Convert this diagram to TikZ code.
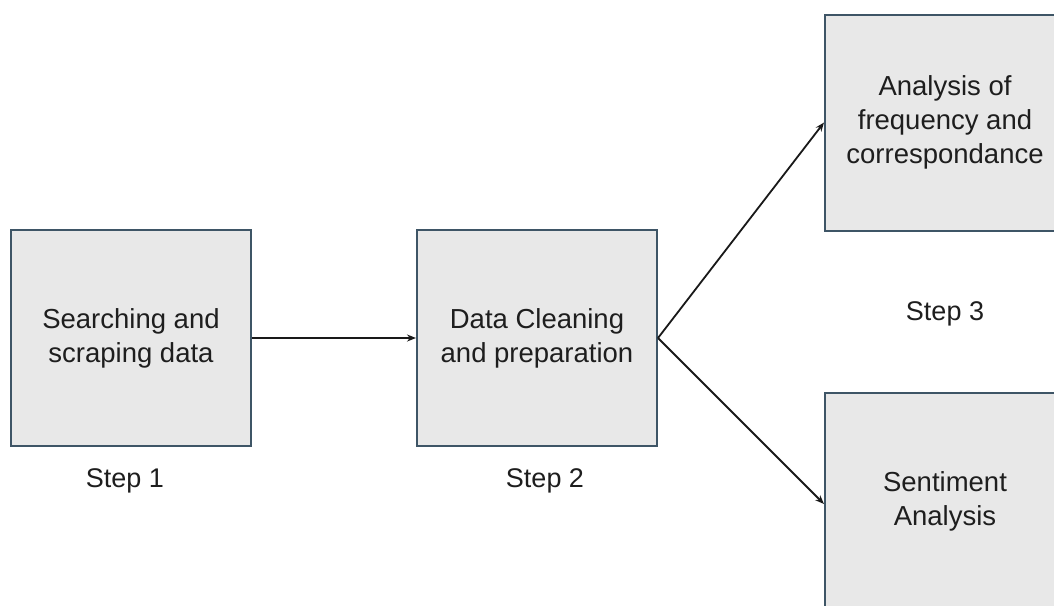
\documentclass[tikz,border=0pt]{standalone}
\usepackage{fontspec}
\setmainfont{Liberation Sans}
\usetikzlibrary{arrows.meta}
\definecolor{boxfill}{HTML}{E8E8E8}
\definecolor{boxline}{HTML}{3E5566}
\definecolor{txt}{HTML}{1E1E1E}
\begin{document}
\begin{tikzpicture}[x=1pt,y=-1pt,
  stagebox/.style={draw=boxline, line width=2pt, fill=boxfill, minimum width=240pt, minimum height=216pt,
    inner sep=0pt, align=center, text=txt, font=\fontsize{27.5}{34}\selectfont},
  steplabel/.style={text=txt, font=\fontsize{27}{32}\selectfont, inner sep=0pt},
  flow/.style={draw=black!90, line width=1.8pt, -{Stealth[length=9pt,width=7pt]}}]
\useasboundingbox (0,0) rectangle (1054,605);
\clip (0,0) rectangle (1054,605);
\node[stagebox] (b1) at (131,338) {Searching and\\scraping data};
\node[stagebox] (b2) at (537,338) {Data Cleaning\\and preparation};
\node[stagebox] (b3) at (945,122.5) {Analysis of\\frequency and\\correspondance};
\node[stagebox] (b4) at (945,501) {Sentiment\\Analysis};
\node[steplabel] (s1) at (125,481) {Step 1};
\node[steplabel] (s2) at (545,481) {Step 2};
\node[steplabel] (s3) at (945,314) {Step 3};
\draw[flow] (b1.east) -- (b2.west);
\draw[flow] (b2.east) -- (b3.west);
\draw[flow] (b2.east) -- ([yshift=-3pt]b4.west);
\end{tikzpicture}
\end{document}
